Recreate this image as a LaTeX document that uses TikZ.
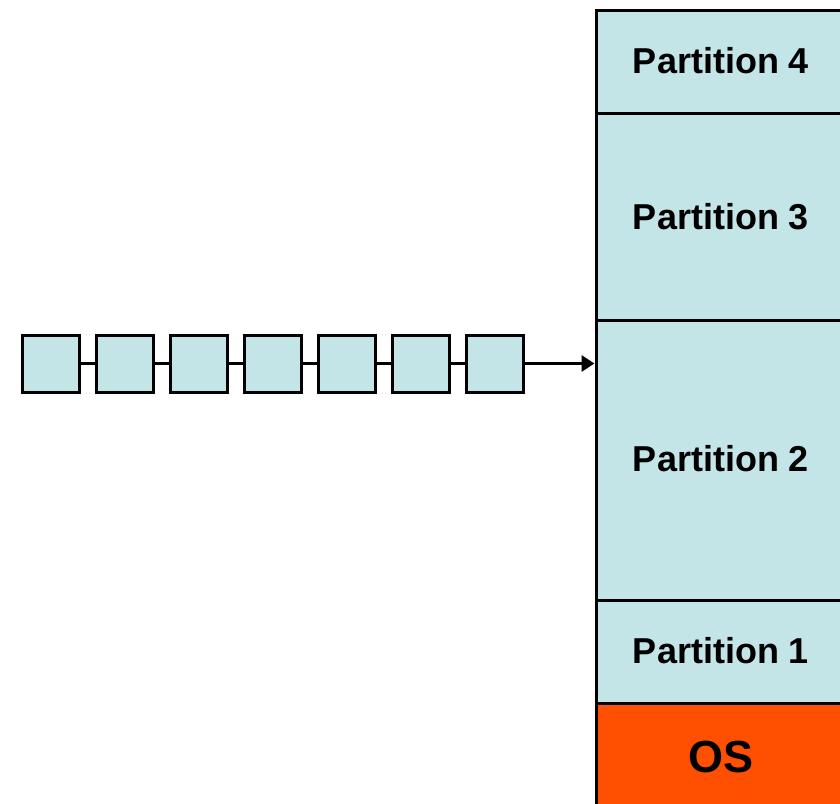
\documentclass[tikz,border=0pt]{standalone}
\usepackage{fontspec}
\setmainfont{Liberation Sans}
\usepackage{tikz}
\usetikzlibrary{arrows.meta}

\definecolor{memcyan}{RGB}{196,229,231}
\definecolor{osred}{RGB}{255,79,0}

\begin{document}
\begin{tikzpicture}[x=1pt, y=-1pt,
    job box/.style={draw=black, fill=memcyan, line width=3pt, inner sep=0pt, minimum size=57pt},
    partition/.style={draw=black, fill=memcyan, line width=3pt, inner sep=0pt, minimum width=250pt,
        font=\bfseries\fontsize{36}{42}\selectfont}]
    \useasboundingbox (0,0) rectangle (840,803);
    \clip (0,0) rectangle (840,803);

    % memory, bottom part (OS) runs off the page
    \node[partition, minimum height=103pt] (p4) at (721,61.5) {\raisebox{2pt}{Partition 4}};
    \node[partition, minimum height=207pt] (p3) at (721,216.5) {Partition 3};
    \node[partition, minimum height=280pt] (p2) at (721,460) {\raisebox{3pt}{Partition 2}};
    \node[partition, minimum height=103pt] (p1) at (721,651.5) {\raisebox{2pt}{Partition 1}};
    \node[partition, minimum height=107pt, fill=osred, font=\bfseries\fontsize{45}{50}\selectfont] (os) at (721,756.5) {OS};

    % input queue
    \foreach \i in {1,...,7}
        \node[job box] (q\i) at (50.5+74*\i-74, 363.5) {};
    \foreach \i/\j in {1/2, 2/3, 3/4, 4/5, 5/6, 6/7}
        \draw[line width=3pt] (q\i) -- (q\j);

    \draw[line width=3pt, -{Triangle[length=13pt, width=16pt]}] (q7) -- (q7 -| p2.west);
\end{tikzpicture}
\end{document}
